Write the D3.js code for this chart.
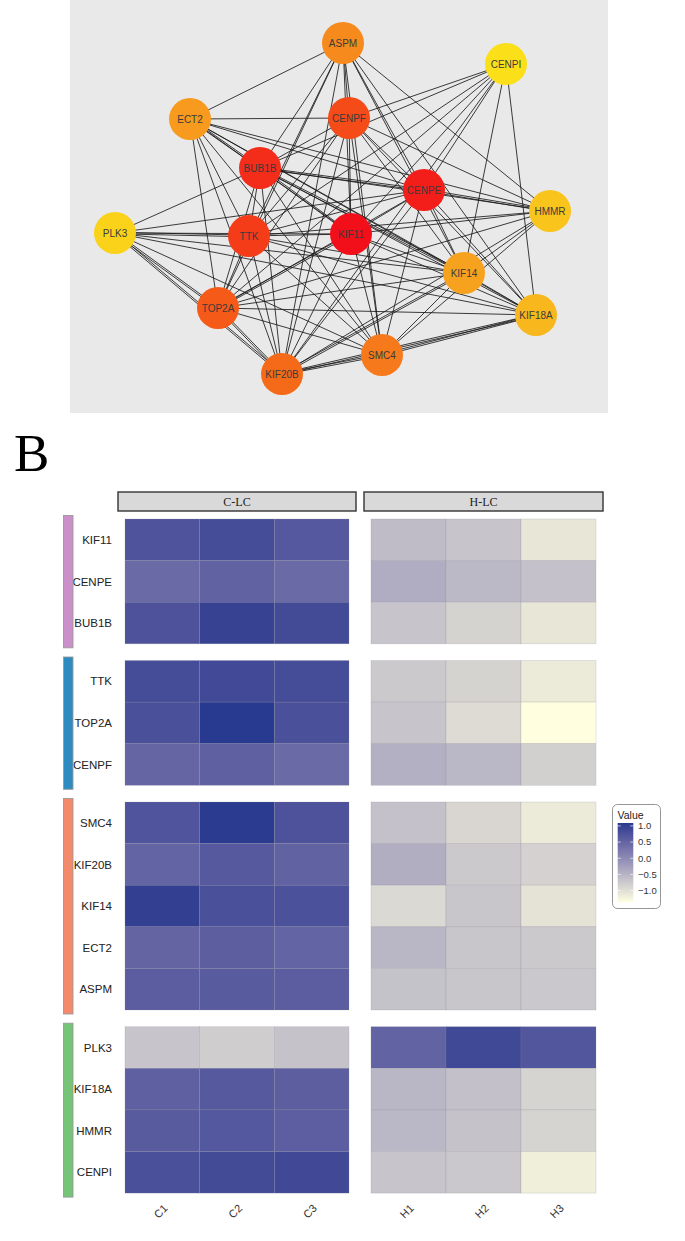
<!DOCTYPE html>
<html><head><meta charset="utf-8">
<script src="https://cdn.jsdelivr.net/npm/d3@7"></script>
<style>body{margin:0;background:#fff}svg{display:block}</style>
</head><body><svg id="c" width="685" height="1241"></svg>
<script>
// ---------------- Network data (panel A) ----------------
const nodeNames = ["ASPM","CENPI","ECT2","CENPF","BUB1B","CENPE","HMMR","PLK3","TTK","KIF11","KIF14","TOP2A","KIF18A","SMC4","KIF20B"];
const nodeScores = [7, 1, 6, 11, 13, 14, 3, 2, 12, 15, 5.5, 10, 4, 8, 9];
// layout coordinates (network layout units)
const layoutX = [273, 436, 120, 279, 190, 354, 480, 45, 179, 281, 394, 148, 466, 312, 212];
const layoutY = [43, 64, 119, 118, 168, 190, 211, 233, 236, 234, 273, 308, 315, 355, 374];
// edges: [source, target, parallel line count]
const edges = [
 ["KIF11","CENPE",1],["KIF11","BUB1B",2],["KIF11","TTK",1],["KIF11","CENPF",1],["KIF11","TOP2A",2],["KIF11","KIF20B",1],["KIF11","SMC4",1],["KIF11","KIF14",1],
 ["CENPE","BUB1B",2],["CENPE","TTK",1],["CENPE","CENPF",1],["CENPE","TOP2A",1],["CENPE","KIF20B",1],["CENPE","SMC4",1],["CENPE","KIF14",1],
 ["BUB1B","TTK",1],["BUB1B","CENPF",1],["BUB1B","TOP2A",1],["BUB1B","KIF20B",1],["BUB1B","SMC4",1],["BUB1B","KIF14",2],
 ["TTK","CENPF",1],["TTK","TOP2A",1],["TTK","KIF20B",1],["TTK","SMC4",1],["TTK","KIF14",1],
 ["CENPF","TOP2A",1],["CENPF","KIF20B",1],["CENPF","SMC4",1],["CENPF","KIF14",1],
 ["TOP2A","KIF20B",2],["TOP2A","SMC4",1],["TOP2A","KIF14",1],
 ["KIF20B","SMC4",2],["KIF20B","KIF14",2],["SMC4","KIF14",1],
 ["ASPM","ECT2",1],["ASPM","CENPF",1],["ASPM","BUB1B",1],["ASPM","TTK",1],["ASPM","TOP2A",1],["ASPM","KIF20B",1],["ASPM","KIF11",1],["ASPM","SMC4",1],["ASPM","CENPE",1],["ASPM","KIF14",1],["ASPM","KIF18A",1],["ASPM","HMMR",1],
 ["CENPI","CENPF",1],["CENPI","BUB1B",1],["CENPI","CENPE",1],["CENPI","KIF11",1],["CENPI","TTK",1],["CENPI","KIF14",1],["CENPI","KIF18A",1],["CENPI","KIF20B",1],["CENPI","TOP2A",1],
 ["ECT2","CENPF",1],["ECT2","BUB1B",2],["ECT2","CENPE",1],["ECT2","HMMR",1],["ECT2","KIF14",1],["ECT2","KIF18A",1],["ECT2","TTK",1],["ECT2","TOP2A",1],["ECT2","KIF20B",1],["ECT2","SMC4",1],["ECT2","KIF11",1],
 ["PLK3","BUB1B",1],["PLK3","TTK",2],["PLK3","KIF11",1],["PLK3","CENPE",1],["PLK3","TOP2A",2],["PLK3","KIF20B",2],["PLK3","SMC4",1],["PLK3","KIF14",1],["PLK3","KIF18A",1],
 ["HMMR","CENPF",1],["HMMR","BUB1B",1],["HMMR","CENPE",2],["HMMR","KIF11",1],["HMMR","TTK",1],["HMMR","KIF14",1],["HMMR","TOP2A",1],["HMMR","KIF20B",1],["HMMR","SMC4",1],
 ["KIF18A","CENPF",1],["KIF18A","BUB1B",1],["KIF18A","CENPE",1],["KIF18A","KIF11",1],["KIF18A","KIF14",1],["KIF18A","TOP2A",1],["KIF18A","TTK",1],["KIF18A","SMC4",2],["KIF18A","KIF20B",2]
];

// ---------------- Heatmap data (panel B) ----------------
const groupRows = [
 ["KIF11","CENPE","BUB1B"],
 ["TTK","TOP2A","CENPF"],
 ["SMC4","KIF20B","KIF14","ECT2","ASPM"],
 ["PLK3","KIF18A","HMMR","CENPI"]
];
const panelLabels = ["C-LC","H-LC"];
const cSamples = ["C1","C2","C3"];
const hSamples = ["H1","H2","H3"];
const genes = ["KIF11","CENPE","BUB1B","TTK","TOP2A","CENPF","SMC4","KIF20B","KIF14","ECT2","ASPM","PLK3","KIF18A","HMMR","CENPI"];
const cValues = [
 [0.73,0.82,0.66],[0.43,0.53,0.43],[0.75,0.97,0.85],
 [0.82,0.86,0.82],[0.78,1.09,0.77],[0.49,0.56,0.43],
 [0.72,1.07,0.75],[0.51,0.65,0.53],[1.00,0.78,0.76],[0.50,0.59,0.51],[0.60,0.62,0.60],
 [-0.69,-0.79,-0.66],[0.56,0.65,0.59],[0.62,0.67,0.58],[0.78,0.85,0.87]
];
const hValues = [
 [-0.59,-0.69,-1.08],[-0.41,-0.56,-0.65],[-0.69,-0.86,-1.08],
 [-0.75,-0.86,-1.13],[-0.69,-0.95,-1.36],[-0.45,-0.53,-0.82],
 [-0.65,-0.90,-1.13],[-0.42,-0.75,-0.84],[-0.93,-0.70,-1.04],[-0.52,-0.70,-0.75],[-0.67,-0.70,-0.73],
 [0.52,0.88,0.70],[-0.52,-0.64,-0.87],[-0.53,-0.66,-0.87],[-0.69,-0.73,-1.18]
];
const legendTicks = [1.0, 0.5, 0.0, -0.5, -1.0];
const groupColors = ["#CB8FC9","#2E8BC0","#F48A6C","#76C477"];

const svg = d3.select("#c");

// ================= Panel A: network =================
const nx = d3.scaleLinear().domain([0, 540]).range([70, 610]);
const ny = d3.scaleLinear().domain([0, 413]).range([0, 413]);
svg.append("rect").attr("x", 70).attr("y", 0).attr("width", 538).attr("height", 413).attr("fill", "#e9e9e9");
const nodeColor = d3.scaleLinear().domain([1, 5.5, 10, 15])
  .range(["#fbe019", "#f7a21e", "#f55a18", "#f20f1a"]);
const pos = {};
nodeNames.forEach((n, i) => pos[n] = [nx(layoutX[i]), ny(layoutY[i])]);
const eg = svg.append("g");
edges.forEach(([s, t, k]) => {
  const [x1, y1] = pos[s], [x2, y2] = pos[t];
  const dx = x2 - x1, dy = y2 - y1, L = Math.hypot(dx, dy);
  const px = -dy / L, py = dx / L;
  for (let j = 0; j < k; j++) {
    const off = k === 1 ? 0 : (j - (k - 1) / 2) * 1.6;
    eg.append("line")
      .attr("x1", x1 + px * off).attr("y1", y1 + py * off)
      .attr("x2", x2 + px * off).attr("y2", y2 + py * off)
      .attr("stroke", "#1a1a1a").attr("stroke-width", 0.85);
  }
});
const ng = svg.append("g").selectAll("g").data(nodeNames).join("g")
  .attr("transform", d => `translate(${pos[d][0]},${pos[d][1]})`);
ng.append("circle").attr("r", 21).attr("fill", (d, i) => nodeColor(nodeScores[i]));
ng.append("text").text(d => d).attr("text-anchor", "middle").attr("dy", "0.36em")
  .attr("font-family", "Liberation Sans, Arial, sans-serif").attr("font-size", 10)
  .attr("fill", "#3b3b3b");

// ================= Panel B: heatmap =================
svg.append("text").text("B").attr("x", 14).attr("y", 471)
  .attr("font-family", "Liberation Serif, Times New Roman, serif").attr("font-size", 53).attr("fill", "#000");

const allVals = cValues.flat().concat(hValues.flat());
const ext = d3.extent(allVals);
const fill = d3.scaleLinear().domain(ext).range(["#FFFFE0", "#283A8F"]).interpolate(d3.interpolateLab);

const rowH = 41.6, gap = 16.7, top0 = 519;
const rowY = {}; const groupExt = [];
let yy = top0;
groupRows.forEach(g => {
  const sc = d3.scaleBand().domain(g).range([yy, yy + g.length * rowH]);
  g.forEach(n => rowY[n] = sc(n));
  groupExt.push([yy, yy + g.length * rowH]);
  yy += g.length * rowH + gap;
});

const panels = [
  {label: panelLabels[0], samples: cSamples, values: cValues, x: d3.scaleBand().domain(cSamples).range([125, 349]), strip: [118, 356]},
  {label: panelLabels[1], samples: hSamples, values: hValues, x: d3.scaleBand().domain(hSamples).range([371, 596]), strip: [364, 603]}
];

panels.forEach(p => {
  // strip
  svg.append("rect").attr("x", p.strip[0]).attr("y", 492).attr("width", p.strip[1] - p.strip[0]).attr("height", 19)
    .attr("fill", "#d9d9d9").attr("stroke", "#333").attr("stroke-width", 1.4);
  svg.append("text").text(p.label).attr("x", (p.strip[0] + p.strip[1]) / 2).attr("y", 505.5)
    .attr("text-anchor", "middle").attr("font-family", "Liberation Serif, Times New Roman, serif")
    .attr("font-size", 12).attr("fill", "#222");
  // cells
  const cells = [];
  genes.forEach((g, gi) => p.samples.forEach((s, si) => cells.push({g, s, v: p.values[gi][si]})));
  svg.append("g").selectAll("rect").data(cells).join("rect")
    .attr("x", d => p.x(d.s)).attr("y", d => rowY[d.g])
    .attr("width", p.x.bandwidth()).attr("height", rowH)
    .attr("fill", d => fill(d.v))
    .attr("stroke", "rgba(140,140,150,0.35)").attr("stroke-width", 0.6);
  // column labels
  p.samples.forEach(s => {
    const cx = p.x(s) + p.x.bandwidth() / 2 + 6;
    svg.append("text").text(s).attr("transform", `translate(${cx},1209) rotate(-45)`)
      .attr("text-anchor", "end").attr("font-family", "Liberation Sans, Arial, sans-serif")
      .attr("font-size", 11).attr("fill", "#333");
  });
});

// row labels
genes.forEach(g => {
  svg.append("text").text(g).attr("x", 112).attr("y", rowY[g] + rowH / 2).attr("dy", "0.36em")
    .attr("text-anchor", "end").attr("font-family", "Liberation Sans, Arial, sans-serif")
    .attr("font-size", 11.5).attr("fill", "#222");
});

// group side bars
groupExt.forEach((e, i) => {
  svg.append("rect").attr("x", 63.5).attr("y", e[0] - 3.5).attr("width", 9.5).attr("height", e[1] - e[0] + 7.5)
    .attr("fill", groupColors[i]).attr("stroke", "#9a9a9a").attr("stroke-width", 0.9);
});

// legend
svg.append("rect").attr("x", 612.5).attr("y", 804.5).attr("width", 48).attr("height", 104).attr("rx", 5)
  .attr("fill", "#fff").attr("stroke", "#8a8a8a").attr("stroke-width", 0.9);
svg.append("text").text("Value").attr("x", 617.5).attr("y", 818.5)
  .attr("font-family", "Liberation Sans, Arial, sans-serif").attr("font-size", 10.5).attr("fill", "#222");
const ly = d3.scaleLinear().domain(ext).range([902.2, 823]);
const defs = svg.append("defs");
const grad = defs.append("linearGradient").attr("id", "lg").attr("x1", 0).attr("y1", 1).attr("x2", 0).attr("y2", 0);
d3.range(0, 1.0001, 0.05).forEach(t => {
  grad.append("stop").attr("offset", t).attr("stop-color", fill(ext[0] + t * (ext[1] - ext[0])));
});
svg.append("rect").attr("x", 617.7).attr("y", 823).attr("width", 15.6).attr("height", 79.2).attr("fill", "url(#lg)");
legendTicks.forEach(v => {
  const y = ly(v);
  svg.append("line").attr("x1", 617.7).attr("x2", 620.8).attr("y1", y).attr("y2", y).attr("stroke", "#fff").attr("stroke-width", 0.8).attr("opacity", 0.8);
  svg.append("line").attr("x1", 630.2).attr("x2", 633.3).attr("y1", y).attr("y2", y).attr("stroke", "#fff").attr("stroke-width", 0.8).attr("opacity", 0.8);
  svg.append("text").text(d3.format(".1f")(v).replace("-", "\u2212")).attr("x", 638).attr("y", y).attr("dy", "0.35em")
    .attr("font-family", "Liberation Sans, Arial, sans-serif").attr("font-size", 9.5).attr("fill", "#333");
});
</script></body></html>
